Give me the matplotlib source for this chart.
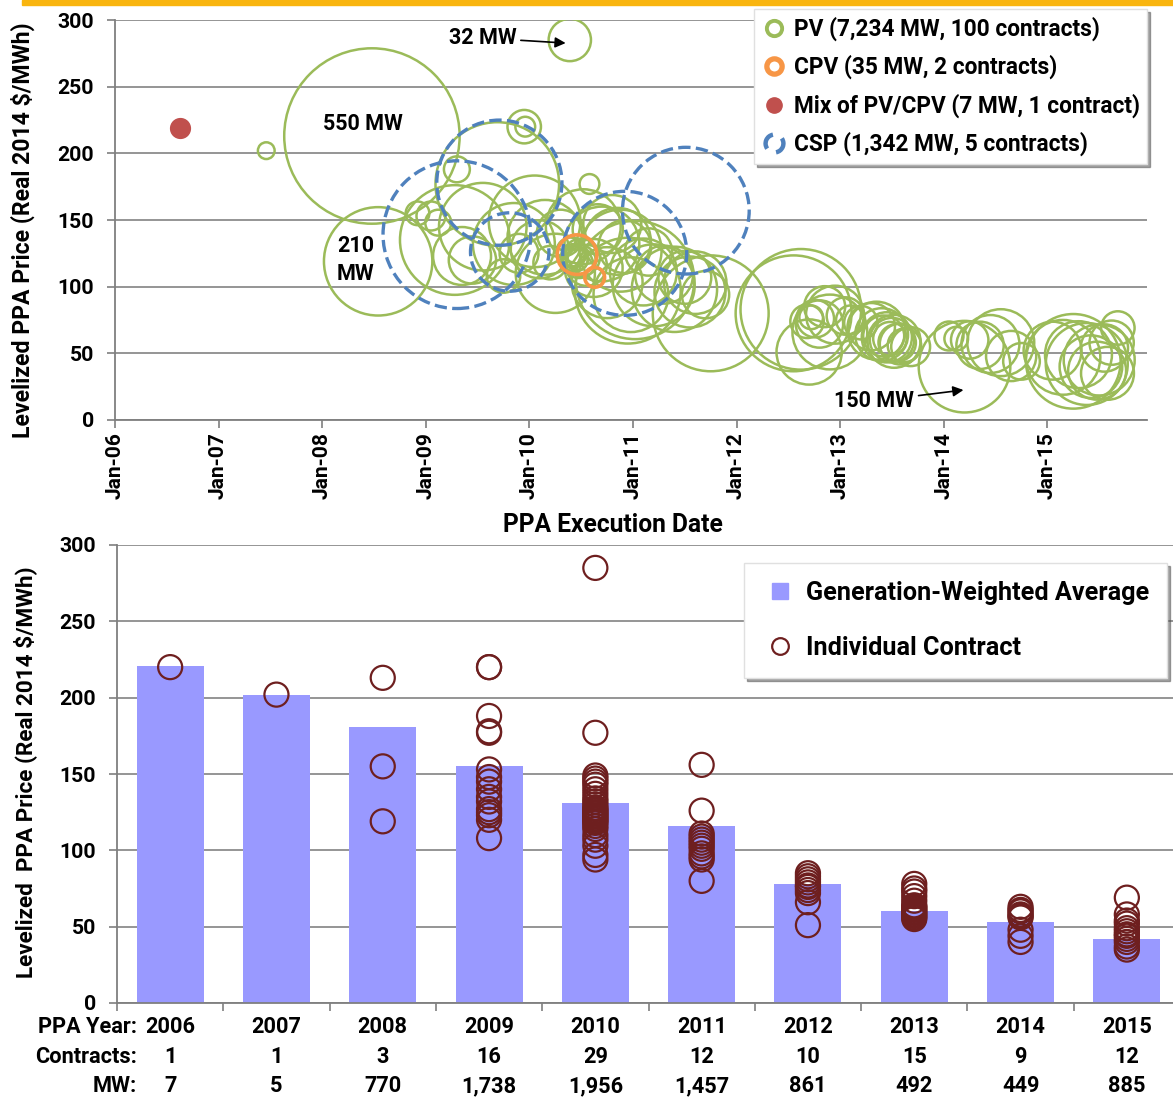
import matplotlib
matplotlib.use('Agg')
import matplotlib.pyplot as plt
import matplotlib.transforms as mtrans
from matplotlib.lines import Line2D
from matplotlib.path import Path
from matplotlib.patches import Rectangle

plt.rcParams['font.family'] = ['Roboto', 'DejaVu Sans']
plt.rcParams['font.weight'] = 'bold'
plt.rcParams['axes.labelweight'] = 'bold'

# ---------------- Top chart data (decimal year, $/MWh, MW) ----------------
pv_date = [2007.46,
           2008.48, 2008.54, 2008.92,
           2009.05, 2009.12, 2009.28, 2009.30, 2009.35, 2009.45, 2009.55, 2009.69,
           2009.75, 2009.85, 2009.90, 2009.95, 2009.96,
           2010.05, 2010.10, 2010.15, 2010.20, 2010.25, 2010.30, 2010.39, 2010.40,
           2010.42, 2010.44, 2010.46, 2010.48, 2010.50, 2010.52, 2010.55, 2010.58,
           2010.62, 2010.66, 2010.70, 2010.75, 2010.80, 2010.85, 2010.88, 2010.92,
           2010.95, 2010.98,
           2011.02, 2011.10, 2011.15, 2011.20, 2011.30, 2011.40, 2011.50, 2011.55,
           2011.60, 2011.70, 2011.75,
           2012.55, 2012.62, 2012.68, 2012.72, 2012.76, 2012.80, 2012.85, 2012.90,
           2012.95, 2012.70,
           2013.05, 2013.10, 2013.20, 2013.30, 2013.35, 2013.40, 2013.42, 2013.45,
           2013.48, 2013.50, 2013.52, 2013.55, 2013.58, 2013.62, 2013.68,
           2014.05, 2014.12, 2014.20, 2014.25, 2014.35, 2014.45, 2014.55, 2014.65,
           2014.75,
           2015.05, 2015.15, 2015.25, 2015.30, 2015.38, 2015.42, 2015.48, 2015.50,
           2015.55, 2015.58, 2015.62, 2015.68]
pv_price = [202,
            213, 119, 155,
            153, 148, 135, 188, 123, 120, 145, 177,
            108, 132, 125, 220, 220,
            149, 128, 137, 118, 110, 140, 285, 126,
            123, 121, 120, 119, 122, 145, 116, 177,
            114, 143, 132, 103, 147, 134, 127, 130,
            97, 94,
            105, 111, 126, 101, 109, 98, 107, 96,
            103, 94, 80,
            80, 83, 74, 77, 76, 72, 85, 66,
            79, 51,
            78, 75, 73, 70, 67, 64, 63, 62,
            61, 60, 59, 58, 57, 56, 55,
            63, 61, 40, 60, 56, 57, 58, 48,
            44,
            52, 47, 44, 49, 42, 40, 37, 45,
            54, 35, 58, 69]
pv_mw = [5,
         550, 210, 10,
         15, 12, 215, 12, 60, 40, 137, 273,
         20, 120, 27, 20, 7,
         150, 60, 100, 20, 112, 40, 32, 15,
         10, 12, 8, 20, 25, 100, 30, 7,
         60, 45, 100, 90, 60, 80, 120, 50,
         200, 100,
         250, 80, 40, 120, 60, 130, 50, 90,
         70, 40, 240,
         240, 260, 20, 10, 25, 40, 30, 100,
         60, 76,
         25, 15, 20, 40, 60, 50, 30, 45,
         20, 35, 50, 25, 30, 20, 27,
         15, 10, 150, 25, 40, 60, 80, 45,
         24,
         60, 100, 160, 80, 120, 70, 60, 90,
         40, 50, 35, 20]

cpv_date = [2010.46, 2010.63]
cpv_price = [124, 107]
cpv_mw = [28, 7]

mix_date = [2006.63]
mix_price = [219]
mix_mw = [7]

csp_date = [2009.30, 2009.71, 2009.81, 2010.92, 2011.51]
csp_price = [139, 178, 126, 125, 157]
csp_mw = [390, 280, 110, 275, 287]

year_ticks = [2006, 2007, 2008, 2009, 2010, 2011, 2012, 2013, 2014, 2015]
year_tick_labels = ['Jan-06', 'Jan-07', 'Jan-08', 'Jan-09', 'Jan-10',
                    'Jan-11', 'Jan-12', 'Jan-13', 'Jan-14', 'Jan-15']

# ---------------- Bottom chart data ----------------
years = ['2006', '2007', '2008', '2009', '2010', '2011', '2012', '2013', '2014', '2015']
avg_price = [221, 202, 181, 155, 131, 116, 78, 60, 53, 42]
contracts = ['1', '1', '3', '16', '29', '12', '10', '15', '9', '12']
mw_total = ['7', '5', '770', '1,738', '1,956', '1,457', '861', '492', '449', '885']

c2006 = [220]
c2007 = [202]
c2008 = [213, 155, 119]
c2009 = [220, 220, 188, 178, 177, 153, 148, 145, 140, 135, 132, 127, 125, 123, 120, 108]
c2010 = [285, 177, 149, 147, 145, 143, 140, 137, 134, 132, 130, 128, 127, 126, 125,
         124, 123, 122, 121, 120, 119, 118, 116, 114, 110, 107, 103, 97, 94]
c2011 = [156, 126, 111, 109, 107, 105, 103, 101, 98, 96, 94, 80]
c2012 = [85, 83, 81, 79, 77, 76, 74, 72, 66, 51]
c2013 = [78, 75, 73, 70, 67, 64, 63, 62, 61, 60, 59, 58, 57, 56, 55]
c2014 = [63, 61, 60, 58, 57, 56, 48, 44, 40]
c2015 = [69, 58, 54, 52, 49, 47, 45, 44, 42, 40, 37, 35]
contract_lists = [c2006, c2007, c2008, c2009, c2010, c2011, c2012, c2013, c2014, c2015]

# ---------------- Styling ----------------
W, H = 1173, 1097
GREEN = '#9BBB59'
BLUE = '#4F81BD'
ORANGE = '#F79646'
RED = '#C0504D'
GRID = '#8C8C8C'
AXC = '#7F7F7F'
BAR = '#9999FF'
DOT = '#6E1F1F'
SIZE_K = 29.0  # points^2 per MW
TICK_FS = 15.3
ANN_FS = 15.5

fig = plt.figure(figsize=(W / 100, H / 100), dpi=100)
fig.patches.append(Rectangle((22 / W, 1 - 5 / H), 1, 5 / H, transform=fig.transFigure,
                             color='#F9B50F', zorder=10))

# ---------------- Top chart ----------------
ax1 = fig.add_axes([115 / W, 1 - 420 / H, (1147 - 115) / W, 400 / H])
ax1.set_xlim(2006, 2006 + (1147 - 115) / 103.6)
ax1.set_ylim(0, 300)
ax1.set_yticks([0, 50, 100, 150, 200, 250, 300])
ax1.set_xticks(year_ticks)
ax1.set_xticklabels(year_tick_labels, rotation=90)
ax1.yaxis.grid(True, color=GRID, lw=1.3)
ax1.set_axisbelow(True)
for s in ['top', 'right']:
    ax1.spines[s].set_visible(False)
for s in ['left', 'bottom']:
    ax1.spines[s].set_color(AXC)
    ax1.spines[s].set_linewidth(1.3)
ax1.tick_params(axis='y', direction='out', length=6, width=1.2, color=AXC,
                labelsize=TICK_FS, pad=9)
ax1.tick_params(axis='x', direction='out', length=6, width=1.2, color=AXC,
                labelsize=15.1, pad=3)
ax1.set_ylabel('Levelized PPA Price (Real 2014 $/MWh)', fontsize=16.6)
ax1.yaxis.set_label_coords(-80 / 1032, 0.475)

ax1.scatter(pv_date, pv_price, s=[m * SIZE_K for m in pv_mw], facecolors='none',
            edgecolors=GREEN, linewidths=1.8, zorder=3)
ax1.scatter(csp_date, csp_price, s=[m * SIZE_K for m in csp_mw], facecolors='none',
            edgecolors=BLUE, linewidths=2.4, linestyles='--', zorder=4)
ax1.scatter(cpv_date, cpv_price, s=[m * SIZE_K for m in cpv_mw], facecolors='none',
            edgecolors=ORANGE, linewidths=2.6, zorder=5)
ax1.scatter(mix_date, mix_price, s=[m * SIZE_K for m in mix_mw], facecolors=RED,
            edgecolors=RED, linewidths=1, zorder=5)

ax1.annotate('32 MW', xy=(2010.35, 282.7), xytext=(2009.55, 286.5), fontsize=ANN_FS,
             ha='center', va='center',
             arrowprops=dict(arrowstyle='-|>', color='black', lw=1.2, shrinkA=1, shrinkB=0))
ax1.annotate('150 MW', xy=(2014.19, 22.5), xytext=(2013.33, 14.2), fontsize=ANN_FS,
             ha='center', va='center',
             arrowprops=dict(arrowstyle='-|>', color='black', lw=1.2, shrinkA=1, shrinkB=0))
ax1.text(2008.39, 222, '550 MW', fontsize=ANN_FS, ha='center', va='center')
ax1.text(2008.32, 120, '210\nMW', fontsize=ANN_FS, ha='center', va='center',
         linespacing=1.3)

fig.text(613 / W, 1 - 525 / H, 'PPA Execution Date', fontsize=17.7,
         ha='center', va='center')

csp_marker = Path.make_compound_path(Path.arc(100, 215), Path.arc(280, 395))
h_pv = Line2D([], [], ls='none', marker='o', ms=11, mfc='none', mec=GREEN, mew=2.8)
h_cpv = Line2D([], [], ls='none', marker='o', ms=11, mfc='none', mec=ORANGE, mew=3.8)
h_mix = Line2D([], [], ls='none', marker='o', ms=11, mfc=RED, mec=RED)
h_csp = Line2D([], [], ls='none', marker=csp_marker, ms=13, mfc='none', mec=BLUE, mew=3.2)
leg1 = ax1.legend([h_pv, h_cpv, h_mix, h_csp],
                  ['PV (7,234 MW, 100 contracts)', 'CPV (35 MW, 2 contracts)',
                   'Mix of PV/CPV (7 MW, 1 contract)', 'CSP (1,342 MW, 5 contracts)'],
                  loc='upper right', bbox_to_anchor=(1147 / W, 1 - 9 / H),
                  bbox_transform=fig.transFigure, borderaxespad=0, fontsize=16.3,
                  frameon=True, fancybox=False, shadow=True, labelspacing=0.62,
                  handletextpad=0.35, handlelength=1.05, borderpad=0.33, framealpha=1)
leg1.get_frame().set_edgecolor('#E0E0E0')
leg1.set_zorder(20)

# ---------------- Bottom chart ----------------
ax2 = fig.add_axes([117 / W, 1 - 1003 / H, 1063 / W, 458 / H])
xs = list(range(len(years)))
ax2.set_xlim(-0.5, 9.5)
ax2.set_ylim(0, 300)
ax2.set_yticks([0, 50, 100, 150, 200, 250, 300])
ax2.yaxis.grid(True, color=GRID, lw=1.3)
ax2.set_axisbelow(True)
for s in ['top', 'right']:
    ax2.spines[s].set_visible(False)
for s in ['left', 'bottom']:
    ax2.spines[s].set_color(AXC)
    ax2.spines[s].set_linewidth(1.3)
ax2.tick_params(axis='both', direction='out', length=6, width=1.2, color=AXC,
                labelsize=TICK_FS, pad=9)
ax2.set_xticks([i - 0.5 for i in range(11)])
ax2.set_xticklabels([])
ax2.set_ylabel('Levelized  PPA Price (Real 2014 $/MWh)', fontsize=16.2)
ax2.yaxis.set_label_coords(-80 / 1063, 0.505)

ax2.bar(xs, avg_price, width=0.63, color=BAR, zorder=2)
for i, lst in enumerate(contract_lists):
    ax2.scatter([xs[i]] * len(lst), lst, s=300, facecolors='none', edgecolors=DOT,
                linewidths=1.6, zorder=3)

tr = mtrans.blended_transform_factory(ax2.transData, fig.transFigure)
row_y = [1 - 1027 / H, 1 - 1057 / H, 1 - 1086 / H]
row_names = ['PPA Year:', 'Contracts:', 'MW:']
for ry, name in zip(row_y, row_names):
    fig.text(137 / W, ry, name, fontsize=15.7, ha='right', va='center')
for i in xs:
    ax2.text(i, row_y[0], years[i], transform=tr, fontsize=15.7, ha='center', va='center')
    ax2.text(i, row_y[1], contracts[i], transform=tr, fontsize=15.7, ha='center', va='center')
    ax2.text(i, row_y[2], mw_total[i], transform=tr, fontsize=15.7, ha='center', va='center')

h_bar = Line2D([], [], ls='none', marker='s', ms=12, mfc=BAR, mec=BAR)
h_dot = Line2D([], [], ls='none', marker='o', ms=12, mfc='none', mec=DOT, mew=1.6)
leg2 = ax2.legend([h_bar, h_dot], ['Generation-Weighted Average', 'Individual Contract'],
                  loc='upper right', bbox_to_anchor=(1167 / W, 1 - 563 / H),
                  bbox_transform=fig.transFigure, borderaxespad=0, fontsize=18.2,
                  frameon=True, fancybox=False, shadow=True, labelspacing=1.25,
                  handletextpad=0.3, handlelength=1.45, borderpad=0.7, framealpha=1)
leg2.get_frame().set_edgecolor('#E0E0E0')

fig.savefig('out.png', dpi=100)
